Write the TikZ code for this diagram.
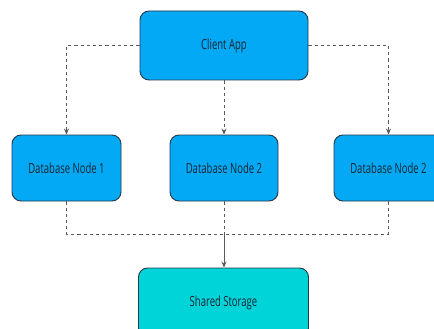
\documentclass[tikz,border=0pt]{standalone}
\usepackage{fontspec}
\setmainfont[FakeStretch=0.68]{Open Sans}
\usetikzlibrary{arrows.meta}
\definecolor{nodeblue}{HTML}{03A9F4}
\definecolor{storeteal}{HTML}{00D4D8}
\definecolor{edgedark}{HTML}{26384A}
\definecolor{textdark}{HTML}{1A2633}
\definecolor{linegray}{HTML}{5A5A5A}
\tikzset{
  box/.style={draw=edgedark, line width=0.9pt, rounded corners=9pt, fill=nodeblue,
    text=textdark, font=\fontsize{14}{16}\selectfont, inner sep=0pt, align=center},
  link/.style={draw=linegray, line width=0.9pt, dash pattern=on 3.2pt off 3pt},
  tip/.style={-{Stealth[length=6pt,width=5pt]}},
}
\begin{document}
\begin{tikzpicture}[x=1pt,y=1pt]
\useasboundingbox (0,-329) rectangle (434,0);
\clip (0,-329) rectangle (434,0);
\fill[white] (0,-329) rectangle (434,0);

\node[box, minimum width=168pt, minimum height=69pt] (client) at (224,-45.5) {Client App};
\node[box, minimum width=109pt, minimum height=66pt] (db1) at (66.5,-168) {Database Node 1};
\node[box, minimum width=108pt, minimum height=66pt] (db2) at (224,-168) {Database Node 2};
\node[box, minimum width=109pt, minimum height=66pt] (db3) at (388.5,-168) {Database Node 2};
\node[box, fill=storeteal, minimum width=170pt, minimum height=69pt] (store) at (223.5,-302.5) {Shared Storage};

\coordinate (join) at (224,-234);

% client fans out to every database node
\draw[link, tip] (client.west) -| (db1.north);
\draw[link, tip] (client.south) -- (db2.north);
\draw[link, tip] (client.east) -| (db3.north);

% database nodes merge onto a shared bus
\draw[link] (db1.south) |- (join);
\draw[link] (db3.south) |- (join);
\draw[link] (db2.south) -- (join);
\draw[draw=linegray, line width=0.9pt, tip] (join) -- (join |- store.north);
\end{tikzpicture}
\end{document}
